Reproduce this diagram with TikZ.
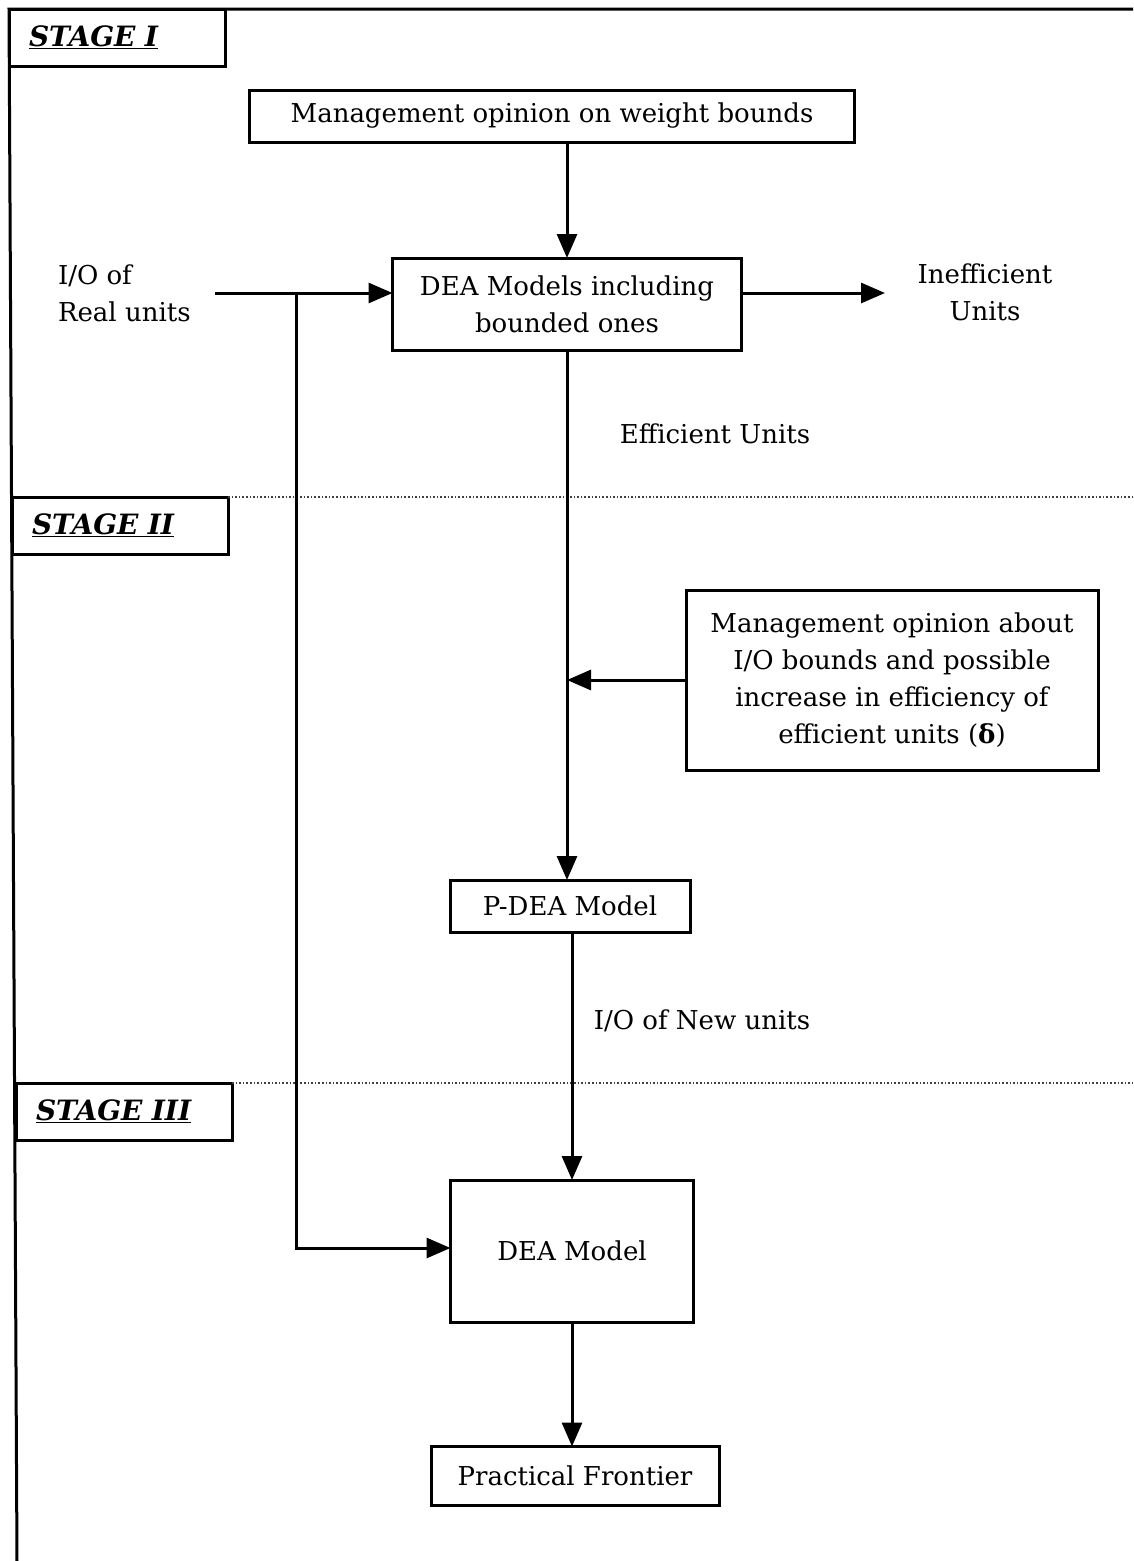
\documentclass[tikz,border=0pt]{standalone}
\usepackage{fontspec}
\setmainfont{DejaVu Serif}
\usetikzlibrary{arrows.meta}
\begin{document}
\begin{tikzpicture}[x=1pt,y=-1pt,
  every node/.style={inner sep=0pt,outer sep=0pt,font=\fontsize{26}{37}\selectfont},
  box/.style={draw,line width=3pt,align=center},
  lbl/.style={align=center},
  stagebox/.style={draw,line width=3pt,anchor=north west,minimum height=57,text width=176,inner xsep=20,align=left,font=\fontsize{28}{34}\selectfont\bfseries\itshape},
  conn/.style={line width=3pt},
  arr/.style={conn,-{Triangle[length=24,width=20]}},
  sep/.style={line width=1.6pt,dotted,black!75}]
\useasboundingbox (0,0) rectangle (1133,1561);

% frame: top rule and left rule
\draw[line width=3pt] (1133,9) -- (9,9) -- (17,1561);

% stage headings
\node[stagebox] (s1) at (9,9) {\underline{STAGE I}};
\node[stagebox] (s2) at (12,497) {\underline{STAGE II}};
\node[stagebox] (s3) at (16,1083) {\underline{STAGE III}};

% stage separators
\draw[sep] (s2.north east) -- (1133,497);
\draw[sep] (s3.north east) -- (1133,1083);

% stage I
\node[box,minimum width=605,minimum height=52] (mgmt1) at (552,116) {Management opinion on weight bounds};
\node[box,minimum width=349,minimum height=92] (dea1) at (567,304) {DEA Models including\\bounded ones};
\node[align=left,anchor=west] (io) at (58,293) {I/O of\\Real units};
\node[lbl] (ineff) at (985,292) {Inefficient\\Units};
\node[lbl] (eff) at (715,434) {Efficient Units};

% stage II
\node[box,minimum width=412,minimum height=180] (mgmt2) at (892,680) {Management opinion about\\I/O bounds and possible\\increase in efficiency of\\efficient units (\textbf{δ})};
\node[box,minimum width=240,minimum height=52] (pdea) at (570,906) {P-DEA Model};
\node[lbl] (ionew) at (702,1021) {I/O of New units};

% stage III
\node[box,minimum width=243,minimum height=142] (dea2) at (572,1251) {DEA Model};
\node[box,minimum width=288,minimum height=59] (pf) at (575,1476) {Practical Frontier};

% connector end points
\coordinate (src) at (215,293);
\coordinate (br) at (296,293);
\coordinate (ineffin) at (885,293);
\coordinate (join) at (dea1.south |- mgmt2.west);

% connectors
\draw[arr] (dea1.north |- mgmt1.south) -- (dea1.north);
\draw[arr] (src) -- (src -| dea1.west);
\draw[arr] (br) |- ([yshift=3]dea2.west);
\draw[arr] (ineffin -| dea1.east) -- (ineffin);
\draw[conn] (dea1.south) -- (join);
\draw[arr] (join) -- (join |- pdea.north);
\draw[arr] (mgmt2.west) -- (join);
\draw[arr] (pdea.south -| dea2.north) -- (dea2.north);
\draw[arr] (dea2.south) -- (dea2.south |- pf.north);
\end{tikzpicture}
\end{document}
